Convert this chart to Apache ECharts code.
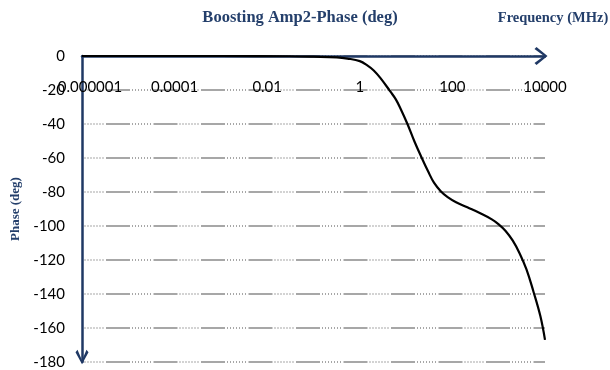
<!DOCTYPE html>
<html><head><meta charset="utf-8">
<script src="https://cdn.jsdelivr.net/npm/echarts@6/dist/echarts.min.js"></script>
<style>html,body{margin:0;padding:0;background:#fff}#c{width:610px;height:370px}</style>
</head><body><div id="c"></div>
<script>
const freqMHz = [0.000001, 0.001, 0.03, 0.1, 0.32, 0.54, 1, 1.45, 2, 2.8, 4.6, 6, 7.6, 10.7, 15, 21, 30, 40, 56, 79, 120, 210, 400, 710, 1000, 1410, 2000, 2820, 3980, 5620, 7940, 10000];
const phaseDeg = [0, 0, -0.15, -0.4, -0.8, -1.5, -3, -5.5, -8.5, -13, -21, -25.5, -31, -40, -50, -59, -68, -74.5, -79.5, -83, -86, -89, -92.5, -96.1, -99, -102.9, -108.5, -116, -125.5, -138.5, -153, -167];
const xTickLabels = ['0.000001', '0.0001', '0.01', '1', '100', '10000'];
const chartTitle = 'Boosting Amp2-Phase (deg)';
const xName = 'Frequency (MHz)';
const yName = 'Phase (deg)';

const navy = '#1F3864';
const titleColor = '#243F6B';
const labelFont = 'Lato';
const serif = '"Liberation Serif", "Times New Roman", serif';

const chart = echarts.init(document.getElementById('c'), null, {renderer: 'canvas'});
const gridDash = [1,2,1,2,1,2,1,2,1,2,1,2,1,2.5,24,2];

chart.setOption({
  animation: false,
  backgroundColor: '#fff',
  grid: {left: 82, right: 65, top: 56, bottom: 8},
  graphic: [
    {type: 'text', x: 300, y: 18, style: {text: chartTitle, textAlign: 'center', textVerticalAlign: 'middle', font: 'bold 16.5px ' + serif, fill: titleColor}},
    {type: 'text', x: 553, y: 18, style: {text: xName, textAlign: 'center', textVerticalAlign: 'middle', font: 'bold 14.5px ' + serif, fill: titleColor}}
  ],
  xAxis: {
    type: 'log',
    logBase: 100,
    min: 0.000001,
    max: 10000,
    position: 'top',
    axisLine: {
      show: true, onZero: false,
      lineStyle: {color: navy, width: 2.5},
      symbol: ['none', 'path://M0,11 L9,0 L18,11 L16,13 L9,3.5 L2,13 Z'],
      symbolSize: [18, 13],
      symbolOffset: [0, -4]
    },
    axisTick: {show: false},
    splitLine: {show: false},
    axisLabel: {
      inside: true,
      margin: 24,
      fontFamily: labelFont,
      fontSize: 15,
      color: '#000',
      formatter: function (v) {
        const i = Math.round(Math.log10(v) / 2) + 3;
        const s = xTickLabels[i] !== undefined ? xTickLabels[i] : '';
        return i === 0 ? '{f|' + s + '}' : s;
      },
      rich: {f: {padding: [0, 0, 0, 16], fontFamily: labelFont, fontSize: 15, color: '#000'}}
    }
  },
  yAxis: {
    type: 'value',
    min: -180,
    max: 0,
    interval: 20,
    name: yName,
    nameLocation: 'middle',
    nameGap: 54,
    nameTextStyle: {fontFamily: serif, fontWeight: 'bold', fontSize: 13, color: titleColor},
    axisLine: {
      show: true, onZero: false,
      lineStyle: {color: navy, width: 2.5},
      symbol: ['path://M0,12 L6.5,0 L13,12 L11,14.5 L6.5,4 L2,14.5 Z', 'none'],
      symbolSize: [13, 15],
      symbolOffset: [5, 0]
    },
    axisTick: {show: false},
    axisLabel: {margin: 17, fontFamily: labelFont, fontSize: 15, color: '#000'},
    splitLine: {show: true, lineStyle: {color: '#8a8a8a', width: 1.5, type: gridDash, dashOffset: 45}}
  },
  series: [{
    type: 'line',
    data: freqMHz.map((f, i) => [f, phaseDeg[i]]),
    smooth: 0.4,
    showSymbol: false,
    clip: false,
    lineStyle: {color: '#000', width: 2.2}
  }]
});
</script>
</body></html>
